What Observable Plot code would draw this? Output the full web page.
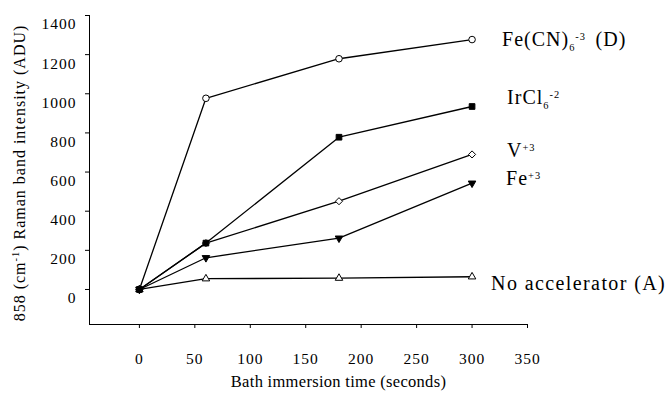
<!DOCTYPE html>
<html><head><meta charset="utf-8">
<script src="https://cdn.jsdelivr.net/npm/d3@7"></script>
<script src="https://cdn.jsdelivr.net/npm/@observablehq/plot@0.6"></script>
<style>
body{margin:0;background:#fff;}
</style>
</head><body><div id="chart"></div>
<script>
// ---- data ----
const times = [0, 60, 180, 300];
const seriesNames = ["Fe(CN)6-3 (D)", "IrCl6-2", "V+3", "Fe+3", "No accelerator (A)"];
const feCN  = [0, 977, 1179, 1277];
const irCl  = [0, 237, 778, 935];
const vIon  = [0, 237, 451, 690];
const feIon = [0, 162, 262, 543];
const noAcc = [0, 55, 58, 65];
const xTicks = [0, 50, 100, 150, 200, 250, 300, 350];
const yTicks = [0, 200, 400, 600, 800, 1000, 1200, 1400];
const xTitle = "Bath immersion time (seconds)";
const yTitle = "858 (cm-1) Raman band intensity (ADU)";
const richText = {
  "Fe(CN)6-3 (D)": [["Fe(CN)", "base"], ["6", "sub"], ["-3", "sup"], ["(D)", "gap"]],
  "IrCl6-2": [["IrCl", "base"], ["6", "sub"], ["-2", "sup"]],
  "V+3": [["V", "base"], ["+3", "sup"]],
  "Fe+3": [["Fe", "base"], ["+3", "sup"]],
  "858 (cm-1) Raman band intensity (ADU)": [["858 (cm", "base"], ["-1", "sup"], [") Raman band intensity (ADU)", "base"]]
};

// ---- styles ----
const values = [feCN, irCl, vIon, feIon, noAcc];
const seriesStyle = [
  {symbol: "circle",   fill: "white", r: 3.3, rotate: 0,   dx: 30, dy: 0},
  {symbol: "square",   fill: "black", r: 3.2, rotate: 0,   dx: 35, dy: -9},
  {symbol: "diamond2", fill: "white", r: 3.2, rotate: 0,   dx: 35, dy: -3.5},
  {symbol: "triangle", fill: "black", r: 2.8, rotate: 180, dx: 34, dy: -4.5},
  {symbol: "triangle", fill: "white", r: 2.8, rotate: 0,   dx: 19, dy: 6.5}
];
const xDomain = [-45, 350];
const yDomain = [-179, 1400];
const serif = "'Liberation Serif', 'Times New Roman', serif";

const rows = seriesNames.flatMap((s, i) => times.map((t, j) => ({series: s, t, v: values[i][j]})));
const rowsOf = s => rows.filter(d => d.series === s);

const dotMarks = filled => seriesNames
  .map((s, i) => ({s, i}))
  .filter(({i}) => (seriesStyle[i].fill === "black") === filled)
  .map(({s, i}) => Plot.dot(rowsOf(s), {
    x: "t", y: "v", symbol: () => seriesStyle[i].symbol, r: seriesStyle[i].r,
    fill: seriesStyle[i].fill, stroke: "black", strokeWidth: 1, rotate: seriesStyle[i].rotate
  }));

const labelMarks = seriesNames.map((s, i) => Plot.text(rowsOf(s).slice(-1), {
  x: "t", y: "v", text: "series", textAnchor: "start", dx: seriesStyle[i].dx, dy: seriesStyle[i].dy,
  fontSize: 20, fill: "black", fontFamily: serif
}));

const chart = Plot.plot({
  width: 667, height: 395,
  marginLeft: 89, marginRight: 140, marginTop: 15, marginBottom: 71,
  x: {domain: xDomain},
  y: {domain: yDomain},
  symbol: {type: "identity"},
  style: `font-family: ${serif}; font-size: 15.5px; background: white; color: black; overflow: visible;`,
  marks: [
    Plot.ruleX([xDomain[0]], {stroke: "black", strokeWidth: 1}),
    Plot.ruleY([yDomain[0]], {stroke: "black", strokeWidth: 1}),
    Plot.axisY({ticks: yTicks, tickSize: 4, fill: "none", label: null}),
    Plot.axisY({ticks: yTicks, tickSize: 4, tickPadding: 9, stroke: "none", dy: 9, label: null, fill: "black", tickFormat: d => String(d)}),
    Plot.axisX({ticks: xTicks, tickSize: 4, tickPadding: 24, label: null, fill: "black", stroke: "black", tickFormat: d => String(d)}),
    Plot.line(rows, {x: "t", y: "v", z: "series", stroke: "black", strokeWidth: 1.3}),
    ...dotMarks(false),
    ...dotMarks(true),
    ...labelMarks,
    Plot.text([xTitle], {frameAnchor: "bottom", textAnchor: "middle", dx: 30, dy: 62, fontSize: 16.5, fill: "black", fontFamily: serif}),
    Plot.text([yTitle], {frameAnchor: "left", textAnchor: "middle", rotate: -90, dx: -70, dy: 3, fontSize: 16, fill: "black", fontFamily: serif})
  ]
});

const svg = d3.select(chart.tagName === "svg" ? chart : chart.querySelector("svg"));
svg.selectAll("text").style("font-family", serif);
// letter spacing (reference type is horizontally stretched)
svg.selectAll('g[aria-label="y-axis tick label"] text, g[aria-label="x-axis tick label"] text')
  .style("letter-spacing", "1px").style("font-size", "15.5px");

// rich text: subscripts and superscripts via baseline-shift
svg.selectAll("text").each(function() {
  const parts = richText[this.textContent];
  if (!parts) return;
  const base = parseFloat(this.getAttribute("font-size")) || 16;
  const t = d3.select(this);
  t.text(null);
  for (const [s, kind] of parts) {
    const span = t.append("tspan").text(s);
    if (kind === "sub" || kind === "sup") {
      span.attr("font-size", base * 0.65)
        .attr("baseline-shift", kind === "sub" ? -base * 0.3 : base * 0.4);
    }
    if (kind === "gap") span.attr("dx", base * 0.6);
  }
  t.style("letter-spacing", base >= 19 ? "1.4px" : "1px");
});
svg.selectAll("text").filter(function(){ return this.textContent === xTitle; }).style("letter-spacing", "0.3px");
svg.selectAll("text").filter(function(){ return this.textContent === "No accelerator (A)"; }).style("letter-spacing", "1.4px");

document.getElementById("chart").appendChild(chart);
</script>
</body></html>
